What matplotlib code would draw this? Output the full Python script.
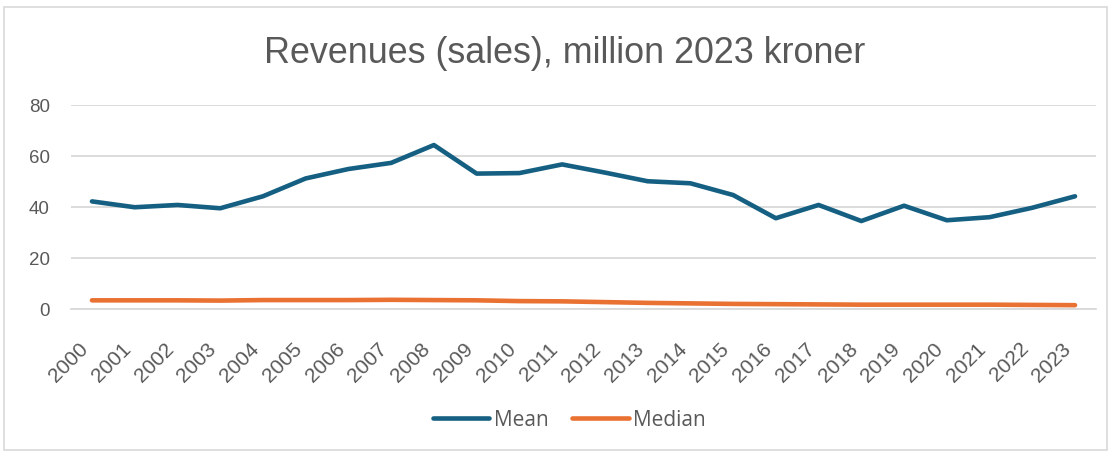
import matplotlib.pyplot as plt
import matplotlib as mpl
from matplotlib.patches import Rectangle

years = list(range(2000, 2024))
mean_rev = [42.2, 39.9, 40.8, 39.5, 44.2, 51.2, 54.9, 57.3, 64.3, 53.1, 53.3, 56.7,
            53.5, 50.1, 49.3, 44.7, 35.6, 40.8, 34.5, 40.5, 34.8, 36.0, 39.7, 44.2]
median_rev = [3.4, 3.4, 3.4, 3.3, 3.5, 3.5, 3.5, 3.6, 3.5, 3.4, 3.1, 3.0,
              2.7, 2.4, 2.2, 2.0, 1.9, 1.8, 1.7, 1.7, 1.7, 1.7, 1.6, 1.5]

mpl.rc('font', family=['Liberation Sans', 'DejaVu Sans'])
grey = '#595959'

fig = plt.figure(figsize=(11.12, 4.52), dpi=100)
ax = fig.add_axes([70.6/1112, 1-310/452, 1025.8/1112, 204/452])

x = range(len(years))
ax.plot(x, mean_rev, color='#156082', lw=3.3, solid_capstyle='round', solid_joinstyle='round', label='Mean')
ax.plot(x, median_rev, color='#E97132', lw=3.3, solid_capstyle='round', solid_joinstyle='round', label='Median')

ax.set_xlim(-0.5, len(years)-0.5)
ax.set_ylim(0, 80)
ax.set_yticks([0, 20, 40, 60, 80])
ax.set_xticks(list(x))
ax.set_xticklabels([str(y) for y in years], rotation=45, ha='right', va='top', fontsize=15)
ax.grid(axis='y', color='#d9d9d9', lw=1.3)
ax.set_axisbelow(True)
for s in ['top', 'right', 'left']:
    ax.spines[s].set_visible(False)
ax.spines['bottom'].set_color('#d9d9d9')
ax.spines['bottom'].set_linewidth(1.3)
ax.tick_params(axis='both', length=0, colors=grey)
ax.tick_params(axis='y', labelsize=13.5, pad=15)
ax.tick_params(axis='x', pad=21)

fig.text(0.508, 1-63/452, 'Revenues (sales), million 2023 kroner', ha='center', va='baseline',
         fontsize=25.8, color=grey)

leg = fig.legend(loc='center', bbox_to_anchor=(0.512, 1-421/452), ncol=2, frameon=False,
                 prop={'family': ['Open Sans', 'DejaVu Sans'], 'size': 15},
                 handlelength=2.7, handletextpad=0.2, columnspacing=1.15)
for t in leg.get_texts():
    t.set_color(grey)

fig.patches.append(Rectangle((4/1112, 0.002), 1103/1112, 1-9/452, transform=fig.transFigure,
                             fill=False, edgecolor='#d9d9d9', lw=1.2))

fig.savefig('out.png', dpi=100, facecolor='white')
